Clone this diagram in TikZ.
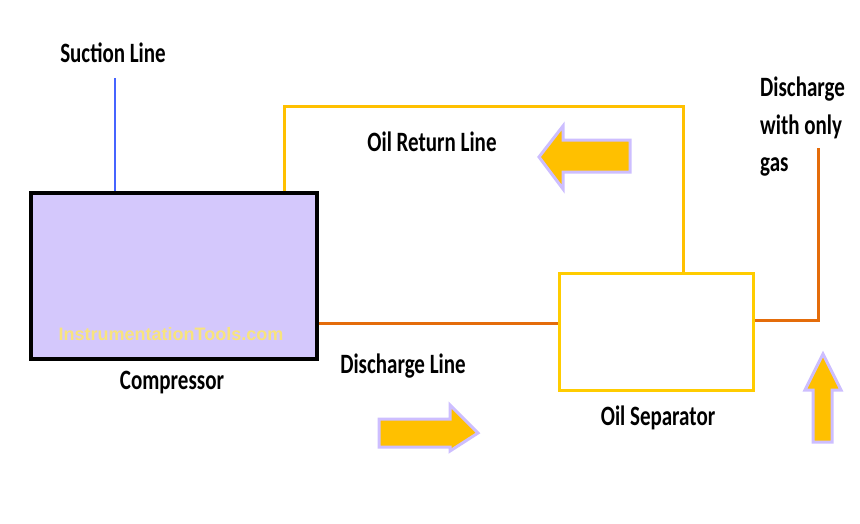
\documentclass[tikz,border=0pt]{standalone}
\usepackage{fontspec}
\setmainfont{Carlito}[FakeStretch=0.75]
\newfontfamily\markfont{Liberation Sans}
\usetikzlibrary{positioning}
\definecolor{oilyellow}{RGB}{255,192,0}
\definecolor{sepyellow}{RGB}{255,204,0}
\definecolor{gasorange}{RGB}{228,108,10}
\definecolor{suctionblue}{RGB}{70,100,255}
\definecolor{compfill}{RGB}{212,200,252}
\definecolor{arrowrim}{RGB}{205,190,255}
\definecolor{markyellow}{RGB}{248,228,125}
\tikzset{
  lbl/.style={font=\fontsize{28}{32}\selectfont\bfseries, inner sep=0pt},
  flowarrow/.style={fill=oilyellow, draw=arrowrim, line width=3pt, line join=miter},
  pipe/.style={line width=3pt}
}
\begin{document}
\begin{tikzpicture}[x=1pt, y=-1pt]
  \useasboundingbox (0,0) rectangle (860,523);

  % Compressor
  \node[draw=black, line width=4pt, fill=compfill, minimum width=286pt, minimum height=166pt, inner sep=0pt, anchor=north west] (comp) at (29,191) {};
  \node[font=\markfont\fontsize{18}{21}\selectfont\bfseries, text=markyellow] (mark) at (171,334) {InstrumentationTools.com};
  \node[lbl] (complbl) at (172,383) {Compressor};

  % Oil separator
  \node[draw=sepyellow, line width=3pt, fill=white, minimum width=194pt, minimum height=117pt, inner sep=0pt, anchor=north west] (sep) at (558,272) {};
  \node[lbl] (seplbl) at (658,418) {Oil Separator};

  % Suction line
  \node[lbl] (suclbl) at (113,53) {Suction Line};
  \coordinate (suctop) at (115,78);
  \draw[suctionblue, line width=2pt] (suctop) -- (suctop |- comp.north);

  % Oil return line
  \coordinate (ret1) at (284,106);
  \coordinate (ret2) at (683,106);
  \draw[oilyellow, pipe] (ret1 |- comp.north) -- (ret1) -- (ret2) -- (ret2 |- sep.north);
  \node[lbl] (retlbl) at (432,142) {Oil Return Line};

  % Discharge line
  \draw[gasorange, pipe] (comp.east |- 0,323) -- (sep.west |- 0,323);
  \node[lbl] (dislbl) at (403,366) {Discharge Line};

  % Discharge with only gas
  \coordinate (gas1) at (818,320);
  \coordinate (gas2) at (818,148);
  \draw[gasorange, pipe] (sep.east |- gas1) -- (gas1) -- (gas2);
  \node[lbl, align=left, anchor=north west, font=\fontsize{28}{37.5}\selectfont\bfseries] (gaslbl) at (760,77) {Discharge\\with only\\gas};

  % Flow arrows
  \filldraw[flowarrow] (630,140) -- (563,140) -- (563,126) -- (539,157) -- (563,189) -- (563,172) -- (630,172) -- cycle;
  \filldraw[flowarrow] (379,419) -- (450,419) -- (450,405) -- (478,433) -- (450,451) -- (450,447) -- (379,447) -- cycle;
  \filldraw[flowarrow] (813,442) -- (813,390) -- (805,390) -- (823,354) -- (841,390) -- (832,390) -- (832,442) -- cycle;
\end{tikzpicture}
\end{document}
